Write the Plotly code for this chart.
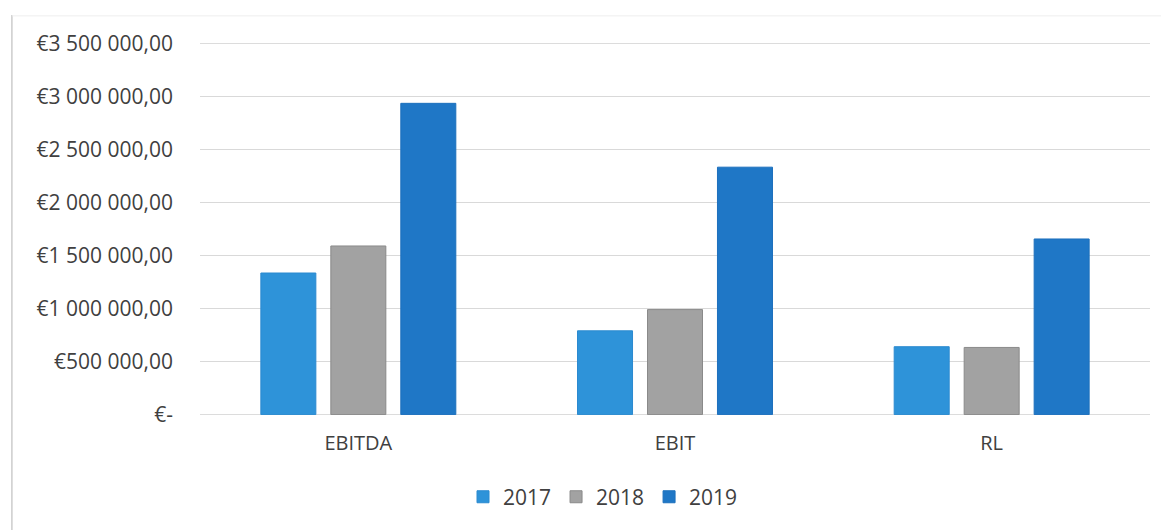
import plotly.graph_objects as go

categories = ["EBITDA", "EBIT", "RL"]
years = ["2017", "2018", "2019"]
v2017 = [1335000, 790000, 640000]
v2018 = [1590000, 990000, 633000]
v2019 = [2935000, 2333000, 1656000]
tick_vals = [0, 500000, 1000000, 1500000, 2000000, 2500000, 3000000, 3500000]
tick_text = ["€-", "€500 000,00", "€1 000 000,00", "€1 500 000,00", "€2 000 000,00",
             "€2 500 000,00", "€3 000 000,00", "€3 500 000,00"]

colors = ["#2e93d9", "#a2a2a2", "#1f77c6"]
lines = ["#2b8ad0", "#8a8a8a", "#1d70bd"]

fig = go.Figure()
for yr, vals, c, lc in zip(years, [v2017, v2018, v2019], colors, lines):
    fig.add_trace(go.Bar(name=yr, x=categories, y=vals, marker=dict(color=c, line=dict(color=lc, width=1))))

edge_grid = [dict(type="line", xref="paper", yref="y", x0=0, x1=1, y0=v, y1=v, layer="below",
                  line=dict(color="#d9d9d9", width=1)) for v in (tick_vals[0], tick_vals[-1])]

fig.update_layout(
    width=1161, height=522,
    margin=dict(l=192, r=19, t=35, b=115),
    paper_bgcolor="white", plot_bgcolor="white",
    barmode="group", bargap=0.337, bargroupgap=0.214,
    font=dict(family="Open Sans, Liberation Sans, sans-serif", size=21, color="#404040"),
    legend=dict(orientation="h", xref="container", yref="container", x=0.5125, y=0.063,
                xanchor="center", yanchor="middle", font=dict(size=21),
                itemwidth=30, traceorder="normal"),
    shapes=edge_grid + [
        dict(type="line", xref="paper", yref="paper", x0=-0.198, x1=-0.198, y0=1.075, y1=-0.31,
             line=dict(color="#cccccc", width=1.5)),
        dict(type="line", xref="paper", yref="paper", x0=-0.198, x1=1.02, y0=1.073, y1=1.073,
             line=dict(color="#eeeeee", width=1)),
    ],
)
fig.update_yaxes(range=[-4000, 3504000], tickvals=tick_vals, ticktext=tick_text,
                 showgrid=True, gridcolor="#d9d9d9", gridwidth=1, zeroline=False,
                 ticks="", ticklabelstandoff=26, showline=False, automargin=False)
fig.update_xaxes(showline=False, ticks="", tickfont=dict(size=20), ticklabelstandoff=14,
                 automargin=False)

fig.write_html("out.html")
